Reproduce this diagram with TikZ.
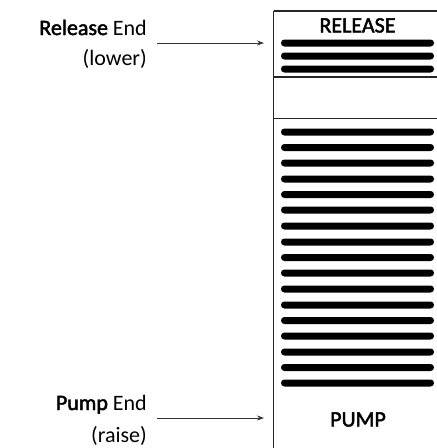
\documentclass[tikz,border=0pt]{standalone}
\usepackage{fontspec}
\setmainfont{Carlito}[AutoFakeBold=2]
\usetikzlibrary{arrows.meta}

\begin{document}
\begin{tikzpicture}[x=1pt,y=1pt]
            \useasboundingbox (0,0) rectangle (437,-448);
            \tikzset{
                wall/.style={black!85, line width=1.6pt},
                plate/.style={black, rounded corners=3.4pt},
                pointer/.style={black!80, line width=1pt, -{Stealth[length=7pt,width=5pt]}},
                tag/.style={font=\fontsize{22}{26}\selectfont, inner sep=0pt}
            }

            %popisky vlavo
            \node[tag, anchor=base east] (relName) at (147,-35) {\textbf{Release} End};
            \node[tag, anchor=base east] (relNote) at (147,-65) {(lower)};
            \node[tag, anchor=base east] (pumpName) at (147,-410) {\textbf{Pump} End};
            \node[tag, anchor=base east] (pumpNote) at (147,-442) {(raise)};

            %sipky
            \coordinate (relFrom) at (157,-43);
            \coordinate (relTo) at (264,-43);
            \coordinate (pumpFrom) at (157,-418);
            \coordinate (pumpTo) at (264,-418);
            \draw[pointer] (relFrom) -- (relTo);
            \draw[pointer] (pumpFrom) -- (pumpTo);

            %zakladna struktura
            \draw[wall] (273.5,-11) -- (273.5,-448); %lava stena
            \draw[wall] (273.5,-11) -- (437,-11); %vrch
            \draw[wall] (273.5,-77) -- (437,-77); %spodok release
            \draw[wall] (273.5,-118.5) -- (437,-118.5); %vrch pump

            %release
            \node[tag, anchor=base, font=\fontsize{22}{26}\selectfont\bfseries] (relTitle) at (357.5,-32.5) {RELEASE};
            \fill[plate] (281,-39.5) rectangle (434,-46.5);
            \fill[plate] (281,-52.5) rectangle (434,-59.5);
            \fill[plate] (281,-65.5) rectangle (434,-72.5);

            %pump
            \fill[plate] (281,-128.5) rectangle (434,-135.5);
            \fill[plate] (281,-144) rectangle (434,-151);
            \fill[plate] (281,-159.5) rectangle (434,-166.5);
            \fill[plate] (281,-175.5) rectangle (434,-182.5);
            \fill[plate] (281,-191) rectangle (434,-198);
            \fill[plate] (281,-206.5) rectangle (434,-213.5);
            \fill[plate] (281,-222.5) rectangle (434,-229.5);
            \fill[plate] (281,-238.5) rectangle (434,-245.5);
            \fill[plate] (281,-254) rectangle (434,-261);
            \fill[plate] (281,-269.5) rectangle (434,-276.5);
            \fill[plate] (281,-285.5) rectangle (434,-292.5);
            \fill[plate] (281,-301.5) rectangle (434,-308.5);
            \fill[plate] (281,-317) rectangle (434,-324);
            \fill[plate] (281,-332.5) rectangle (434,-339.5);
            \fill[plate] (281,-348.5) rectangle (434,-355.5);
            \fill[plate] (281,-364) rectangle (434,-371);
            \fill[plate] (281,-379.5) rectangle (434,-386.5);
            \node[tag, anchor=base, font=\fontsize{22}{26}\selectfont\bfseries] (pumpTitle) at (358,-426.5) {PUMP};
        \end{tikzpicture}
\end{document}
